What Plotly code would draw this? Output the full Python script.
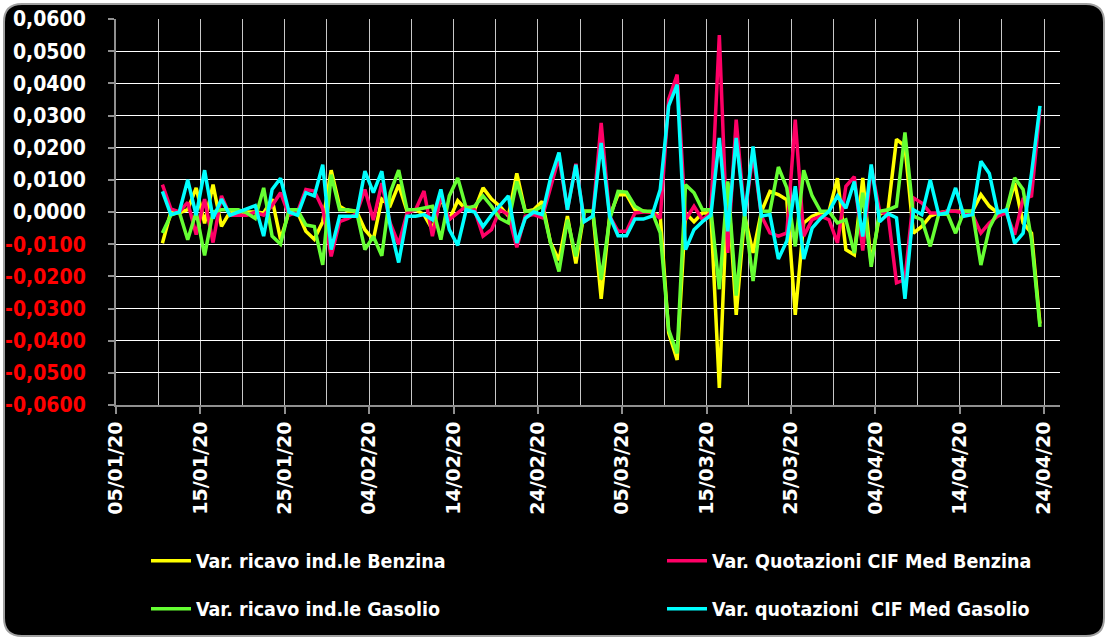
import pandas as pd
import plotly.graph_objects as go

# daily dates (point centred at midday) from 10/01/2020 to 23/04/2020
dates = pd.date_range("2020-01-10 12:00", periods=105, freq="D")

# values in thousandths
benzina_ricavo = [
    -9.7, 0, -0.3, 0.7, 7.5, -3.5, 8.5, -4.5, 0, 0, 0, 0, -0.3, 4, -8.5, 0, 0, -6,
    -8.5, -3, 13, 1.8, 0.2, 0.2, -5.5, -8.6, 4, 2, 8.5, 0.2, 0.7, -0.8, -5.5, 4.4, -2.4, 3.5, 0.7, 0.7, 7.5,
    4, 1.8, -1.3, 12, 0.2, 0.7, 3.3, -9.6, -15, -1.3, -16, 0.2, 0.2, -27, -1.3, 5.4, 5.4, 0.7, 0.2, -0.1, -1.3, -37.6, -46,
    -0.3, -3, -0.3, -0.3, -54.7, 9, -32, -1.3, -12.7, 0.2, 6.4, 5.4, 3.8, -32, -3.4, -1.3, -0.3, 0.2, 10.5, -11.7, -13.3,
    10.6, -16, -0.8, 0.7, 22.6, 20.5, -6.6, -4.5, -1.3, -0.3, 0.2, 0.2, 0.2, 0.2, 5.4, 1.8, -0.3, -0.3, 9, -3.4, -6.6, -34.7,
]
benzina_cif = [
    8.5, 1, 0, 3, -7, 4, -9.5, 5, -1, -1, -1, 0, -1, 2, 6, -1, 0, 7,
    6.5, 1, -13.8, -3, -2, -0.5, 7, -2.5, 9, -3.5, -10, -0.3, 0.7, 6.5, -7.5, 5, -2.4, -0.3, 1.8, 0.7, -7.5,
    -5.5, 0.7, -0.8, -11, -1.3, -0.8, -1.8, 8, 17, 0.7, 15, -3, -1.3, 27.7, -1.3, -6, -6, -0.3, 0, 0, -2, 35, 42.7,
    -2.4, 1.8, -2.4, -0.3, 55, -12.7, 28.7, -1.3, 18, -1.3, -6.5, -7.5, -6.5, 28.7, -7.5, -2.4, -1.3, -2.4, -9.6, 8, 11,
    -12, 14, 0.2, -0.8, -22, -21, 4.4, 2.8, -0.3, -0.3, 0.2, 0.2, -0.3, -0.8, -6.5, -3.4, -1.3, -0.3, -7, 4, 5, 32,
]
gasolio_ricavo = [
    -6.5, -1, 0, -8.6, 0, -13.5, 0, 0.7, 0.7, 0.7, -0.3, -2, 7.5, -7.5, -10, 0.7, 0.7, -4,
    -4.5, -16.4, 11.6, 0.7, 0.7, 0.2, -11.7, -7.6, -13.6, 6, 13, 0.7, 0.7, 1.2, 1.8, -8.6, 5, 10.6, 1.2, 1.8, 5,
    1.8, -2, -3.4, 9.5, 0.2, 0.2, 1.8, -9.6, -18.5, -2.4, -13.8, 0.2, 0.2, -21, -2.4, 6.4, 6.2, 1.8, 0.2, 0.2, -6.5, -36.6, -44,
    8.5, 6, 0.7, 0.7, -24, 9.5, -26, -0.3, -21.5, 0.2, 0.2, 14, 7.5, -10.7, 13, 5, 0.2, 0.2, -3.4, -2.4, -12.8,
    6, -17, 0.2, 0.7, 1.8, 24.7, -1.3, -2.4, -10.7, -0.8, -0.3, -6.6, 0.2, 0.2, -16.5, -5, 0.2, 0.2, 10.6, 7, -8.7, -35.7,
]
gasolio_cif = [
    6.4, -0.8, 0, 10, -1, 13, -2, 4, -1, 0, 1, 2, -7.5, 7, 10.5, 0, -1, 6,
    5, 14.7, -11.7, -1.3, -1.3, -1.3, 12.7, 6, 12.7, -4.5, -15.7, -1.3, -1.3, -0.8, -2.4, 7, -5.5, -10.4, 0.7, 0, -4.5,
    -1, 2, 5, -9.6, -2, 0, -0.8, 10.5, 18.5, 0.7, 14.7, -3, -1.3, 21.5, -1.3, -7.4, -7.4, -2.2, -2.2, -1.3, 7, 33, 39.6,
    -11.7, -5.5, -3, -1, 23, -6, 23, -1.3, 20.4, -1.3, -0.8, -14.6, -9, 8, -14.6, -5, -2, 0.2, 5, 1.2, 9.5,
    -7.6, 14.8, -3, -0.5, -1.8, -27, 0.7, -0.8, 10, -0.8, -0.3, 7.5, -1.3, -0.8, 15.8, 12, -0.3, 0.7, -9.7, -6.6, 12, 33,
]

series_names = [
    "Var. ricavo ind.le Benzina",
    "Var. Quotazioni CIF Med Benzina",
    "Var. ricavo ind.le Gasolio",
    "Var. quotazioni  CIF Med Gasolio",
]
series_values = [benzina_ricavo, benzina_cif, gasolio_ricavo, gasolio_cif]
series_colors = ["#FFFF00", "#FF0066", "#66FF33", "#00FFFF"]
series_legend = ["legend", "legend2", "legend3", "legend4"]

y_ticks = [round(-0.06 + 0.01 * i, 2) for i in range(13)]


def fmt(v):
    s = ("%.4f" % v).replace(".", ",")
    if v < 0:
        return '<span style="color:#FF0000">%s</span>' % s
    return s


y_ticktext = [fmt(v) for v in y_ticks]

fig = go.Figure()
for name, vals, col, lg in zip(series_names, series_values, series_colors, series_legend):
    fig.add_trace(go.Scatter(
        x=dates, y=[v / 1000 for v in vals], mode="lines", name=name,
        line=dict(color=col, width=3.5), legend=lg,
    ))

W, H = 1107, 640
L, R, T, B = 116, 1060, 19, 405


def px(xp):
    return (xp - L) / (R - L)


def py(yp):
    return (B - yp) / (B - T)


x0, x1, y0, y1 = px(4), px(1104), py(636), py(4)
rx, ry = 18 / (R - L), 18 / (B - T)
path = (f"M {x0+rx},{y1} L {x1-rx},{y1} Q {x1},{y1} {x1},{y1-ry} "
        f"L {x1},{y0+ry} Q {x1},{y0} {x1-rx},{y0} L {x0+rx},{y0} "
        f"Q {x0},{y0} {x0},{y0+ry} L {x0},{y1-ry} Q {x0},{y1} {x0+rx},{y1} Z")

legend_font = dict(family="DejaVu Sans Condensed, DejaVu Sans", size=19.5, color="white", weight="bold")


def leg(xp, yp):
    return dict(orientation="h", x=px(xp), xanchor="left", y=py(yp), yanchor="middle",
                font=legend_font, bgcolor="rgba(0,0,0,0)", itemwidth=40)


fig.update_layout(
    width=W, height=H,
    margin=dict(l=L, r=W - R, t=T, b=H - B),
    paper_bgcolor="white",
    plot_bgcolor="black",
    shapes=[dict(type="path", path=path, xref="paper", yref="paper",
                 fillcolor="black", line=dict(color="#A0A0A0", width=2), layer="below")],
    legend=leg(146, 561),
    legend2=leg(662, 561),
    legend3=leg(146, 609),
    legend4=leg(662, 609),
    showlegend=True,
)

fig.update_xaxes(
    type="date",
    range=["2020-01-05", "2020-04-25 21:00"],
    tick0="2020-01-05", dtick=10 * 86400000, tickformat="%d/%m/%y",
    tickangle=-90,
    tickfont=dict(family="DejaVu Sans", size=19, color="white", weight="bold"),
    ticks="outside", ticklen=7, tickcolor="#909090", tickwidth=2,
    showgrid=True, gridcolor="#C8C8C8", gridwidth=1,
    minor=dict(dtick=5 * 86400000, tick0="2020-01-05", showgrid=True, gridcolor="#C8C8C8", gridwidth=1),
    showline=True, linecolor="#909090", linewidth=2,
    zeroline=False, fixedrange=True, automargin=False,
)
fig.update_yaxes(
    range=[-0.06, 0.06],
    tickvals=y_ticks, ticktext=y_ticktext,
    tickfont=dict(family="DejaVu Sans Condensed, DejaVu Sans", size=21, color="white", weight="bold"),
    ticks="outside", ticklen=6, tickcolor="#909090", tickwidth=2,
    ticklabelstandoff=18,
    showgrid=True, gridcolor="white", gridwidth=1,
    showline=True, linecolor="#909090", linewidth=2,
    zeroline=False, fixedrange=True, automargin=False,
)

fig.write_html("out.html", post_script="document.body.style.margin='0px';",
               config={"displayModeBar": False})
